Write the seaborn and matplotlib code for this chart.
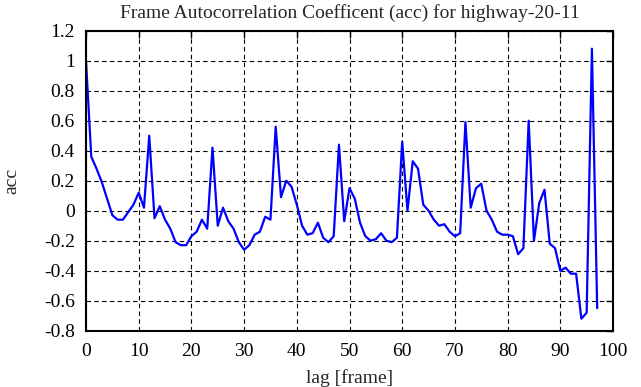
import numpy as np
import pandas as pd
import seaborn as sns
from matplotlib import pyplot as plt
from matplotlib.ticker import FuncFormatter, MultipleLocator

# lag values
lags = list(range(0, 98))
acc = [1.00, 0.36, 0.28, 0.19, 0.08, -0.03, -0.06, -0.06, -0.01, 0.04,
       0.12, 0.02, 0.50, -0.05, 0.03, -0.06, -0.12, -0.21, -0.23, -0.23,
       -0.17, -0.14, -0.06, -0.12, 0.42, -0.10, 0.02, -0.07, -0.12, -0.21,
       -0.26, -0.23, -0.16, -0.14, -0.04, -0.06, 0.56, 0.09, 0.20, 0.16,
       0.04, -0.10, -0.16, -0.15, -0.08, -0.18, -0.21, -0.17, 0.44, -0.07,
       0.15, 0.08, -0.08, -0.17, -0.20, -0.19, -0.15, -0.20, -0.21, -0.18,
       0.46, 0.00, 0.33, 0.28, 0.04, 0.00, -0.06, -0.10, -0.09, -0.14,
       -0.17, -0.15, 0.59, 0.02, 0.15, 0.18, 0.00, -0.06, -0.14, -0.16,
       -0.16, -0.17, -0.29, -0.25, 0.60, -0.20, 0.05, 0.14, -0.22, -0.25,
       -0.40, -0.38, -0.42, -0.42, -0.72, -0.68, 1.08, -0.65]

df = pd.DataFrame({'lag': lags, 'acc': acc})

sns.set_style('white')
plt.rcParams['font.family'] = ['Liberation Serif', 'DejaVu Serif']
fs = 14

fig = plt.figure(figsize=(6.41, 3.87), dpi=100)
ax = fig.add_axes([86 / 641, 1 - 330.7 / 387, 527 / 641, 300 / 387])

sns.lineplot(x='lag', y='acc', data=df, ax=ax, color='#0000ff', linewidth=1.6)

ax.set_xlim(0, 100)
ax.set_ylim(-0.8, 1.2)
ax.xaxis.set_major_locator(MultipleLocator(10))
ax.yaxis.set_major_locator(MultipleLocator(0.2))
ax.yaxis.set_major_formatter(FuncFormatter(lambda v, p: '%g' % round(v, 2)))
ax.grid(True, color='black', linestyle=(0, (4, 3)), linewidth=0.8)
ax.set_axisbelow(True)
for s in ax.spines.values():
    s.set_color('black')
    s.set_linewidth(1.5)
ax.tick_params(direction='in', top=True, right=True, length=5, width=1,
               labelsize=fs, colors='black')
ax.tick_params(axis='x', pad=9)
ax.tick_params(axis='y', pad=8)
ax.set_xlabel('lag [frame]', fontsize=fs)
ax.set_ylabel('acc', fontsize=fs)
ax.xaxis.set_label_coords(0.5, -0.128)
ax.yaxis.set_label_coords(-0.125, 0.5)
ax.set_title('Frame Autocorrelation Coefficent (acc) for highway-20-11', fontsize=fs, y=1.0, pad=9)

fig.savefig('out.png', dpi=100)
